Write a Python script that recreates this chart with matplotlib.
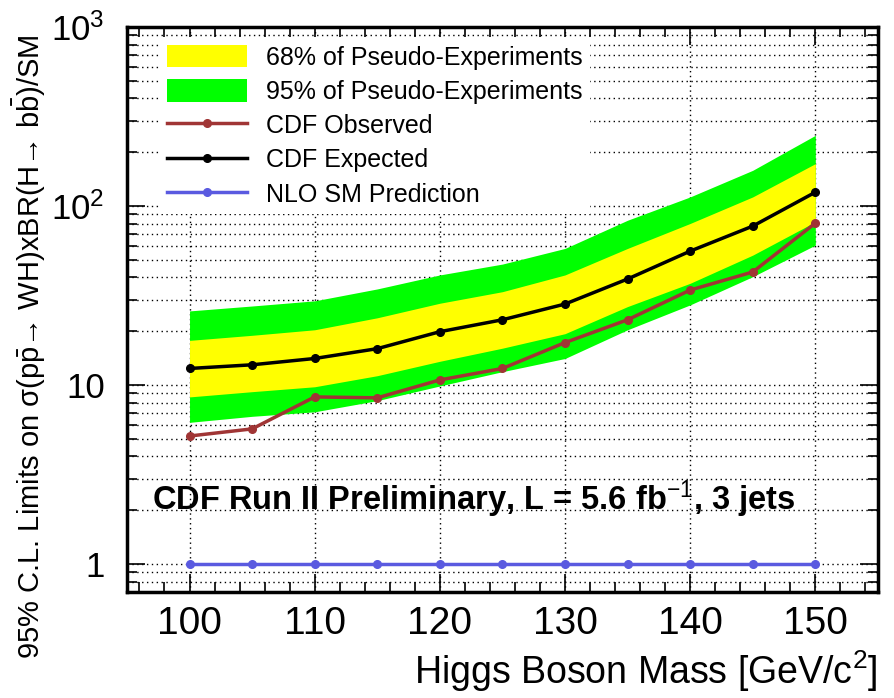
import numpy as np
import matplotlib
matplotlib.use("Agg")
import matplotlib.pyplot as plt
from matplotlib.ticker import FixedLocator, MultipleLocator, NullFormatter
from matplotlib.patches import Patch
from matplotlib.lines import Line2D

plt.rcParams['font.family'] = ['Liberation Sans', 'DejaVu Sans']
plt.rcParams['mathtext.fontset'] = 'custom'
plt.rcParams['mathtext.rm'] = 'Liberation Sans'
plt.rcParams['mathtext.it'] = 'Liberation Sans:italic'
plt.rcParams['mathtext.bf'] = 'Liberation Sans:bold'

# Higgs mass points and limits (ratio to SM)
mass = [100, 105, 110, 115, 120, 125, 130, 135, 140, 145, 150]
observed = [5.2, 5.7, 8.6, 8.5, 10.7, 12.4, 17.3, 23.2, 34.0, 42.9, 80.4]
expected = [12.4, 13.0, 14.1, 16.0, 19.9, 23.2, 28.4, 39.2, 56.1, 77.4, 119.7]
band95_lo = [6.2, 6.7, 7.1, 8.2, 9.9, 11.9, 14.1, 20.4, 28.1, 40.4, 60.6]
band95_hi = [26.0, 27.7, 29.6, 34.5, 41.3, 47.5, 58.1, 83.5, 112.7, 158.7, 248.8]
band68_lo = [8.6, 9.2, 9.8, 11.3, 13.6, 16.1, 19.4, 27.5, 37.1, 53.3, 81.8]
band68_hi = [17.8, 19.0, 20.4, 23.8, 28.7, 33.3, 41.3, 58.1, 80.1, 112.7, 172.9]
sm_pred = [1, 1, 1, 1, 1, 1, 1, 1, 1, 1, 1]

c_obs = '#a03535'
c_sm = '#5a5ae0'
lw = 2.5
ms = 5.5

fig = plt.figure(figsize=(8.94, 6.98), dpi=100)
ax = fig.add_axes([0.142, 0.152, 0.840, 0.809])

ax.fill_between(mass, band95_lo, band95_hi, color='#00ff00', lw=0, zorder=2)
ax.fill_between(mass, band68_lo, band68_hi, color='#ffff00', lw=0, zorder=3)
ax.plot(mass, observed, color=c_obs, lw=lw, marker='o', ms=ms, zorder=5)
ax.plot(mass, expected, color='black', lw=lw, marker='o', ms=ms, zorder=5)
ax.plot(mass, sm_pred, color=c_sm, lw=lw, marker='o', ms=ms, zorder=5)

ax.set_yscale('log')
ax.set_xlim(95, 155)
ax.set_ylim(0.7, 1000)

# ticks
ax.xaxis.set_major_locator(MultipleLocator(10))
ax.xaxis.set_minor_locator(MultipleLocator(2))
ax.yaxis.set_major_locator(FixedLocator([1, 10, 100, 1000]))
minors = [m * 10.0 ** d for d in range(-1, 3) for m in range(2, 10)]
ax.yaxis.set_minor_locator(FixedLocator(minors))
ax.yaxis.set_minor_formatter(NullFormatter())
ax.set_yticklabels(['1', '10', '$10^2$', '$10^3$'])
ax.tick_params(which='both', direction='in', top=True, right=True, width=1.2)
ax.tick_params(which='major', length=13)
ax.tick_params(which='minor', length=7)
ax.tick_params(axis='y', labelsize=25, pad=16)
ax.tick_params(axis='x', labelsize=28, pad=10)

for sp in ax.spines.values():
    sp.set_linewidth(2.5)

# dotted grid
ax.grid(True, which='major', axis='x', color='black', ls=(0, (1, 2.5)), lw=1.0)
ax.grid(True, which='both', axis='y', color='black', ls=(0, (1, 2.5)), lw=1.0)
ax.set_axisbelow(True)

ax.set_xlabel('Higgs Boson Mass [GeV/c$^2$]', fontsize=27, ha='right')
ax.xaxis.set_label_coords(1.0, -0.1)
ax.set_ylabel(r'95% C.L. Limits on σ($\mathrm{p\bar{p}}$→ WH)xBR(H→ $\mathrm{b\bar{b}}$)/SM',
              fontsize=21)
ax.yaxis.set_label_coords(-0.105, 0.434)

ax.text(97, 2.3, 'CDF Run II Preliminary, L = 5.6 fb$^{-1}$, 3 jets',
        fontsize=23.5, fontweight='bold', va='center', zorder=6)

handles = [
    Patch(facecolor='#ffff00', edgecolor='none'),
    Patch(facecolor='#00ff00', edgecolor='none'),
    Line2D([], [], color=c_obs, lw=lw, marker='o', ms=ms),
    Line2D([], [], color='black', lw=lw, marker='o', ms=ms),
    Line2D([], [], color=c_sm, lw=lw, marker='o', ms=ms),
]
labels = ['68% of Pseudo-Experiments', '95% of Pseudo-Experiments',
          'CDF Observed', 'CDF Expected', 'NLO SM Prediction']
leg = ax.legend(handles, labels, loc='upper left', bbox_to_anchor=(0.044, 0.982),
                borderaxespad=0, borderpad=0.3, fontsize=18, handlelength=3.2,
                handleheight=1.0, handletextpad=0.75, labelspacing=0.38,
                frameon=True, fancybox=False, framealpha=1.0)
leg.get_frame().set_facecolor('white')
leg.get_frame().set_edgecolor('none')
leg.set_zorder(4)

fig.savefig('out.png', dpi=100)
